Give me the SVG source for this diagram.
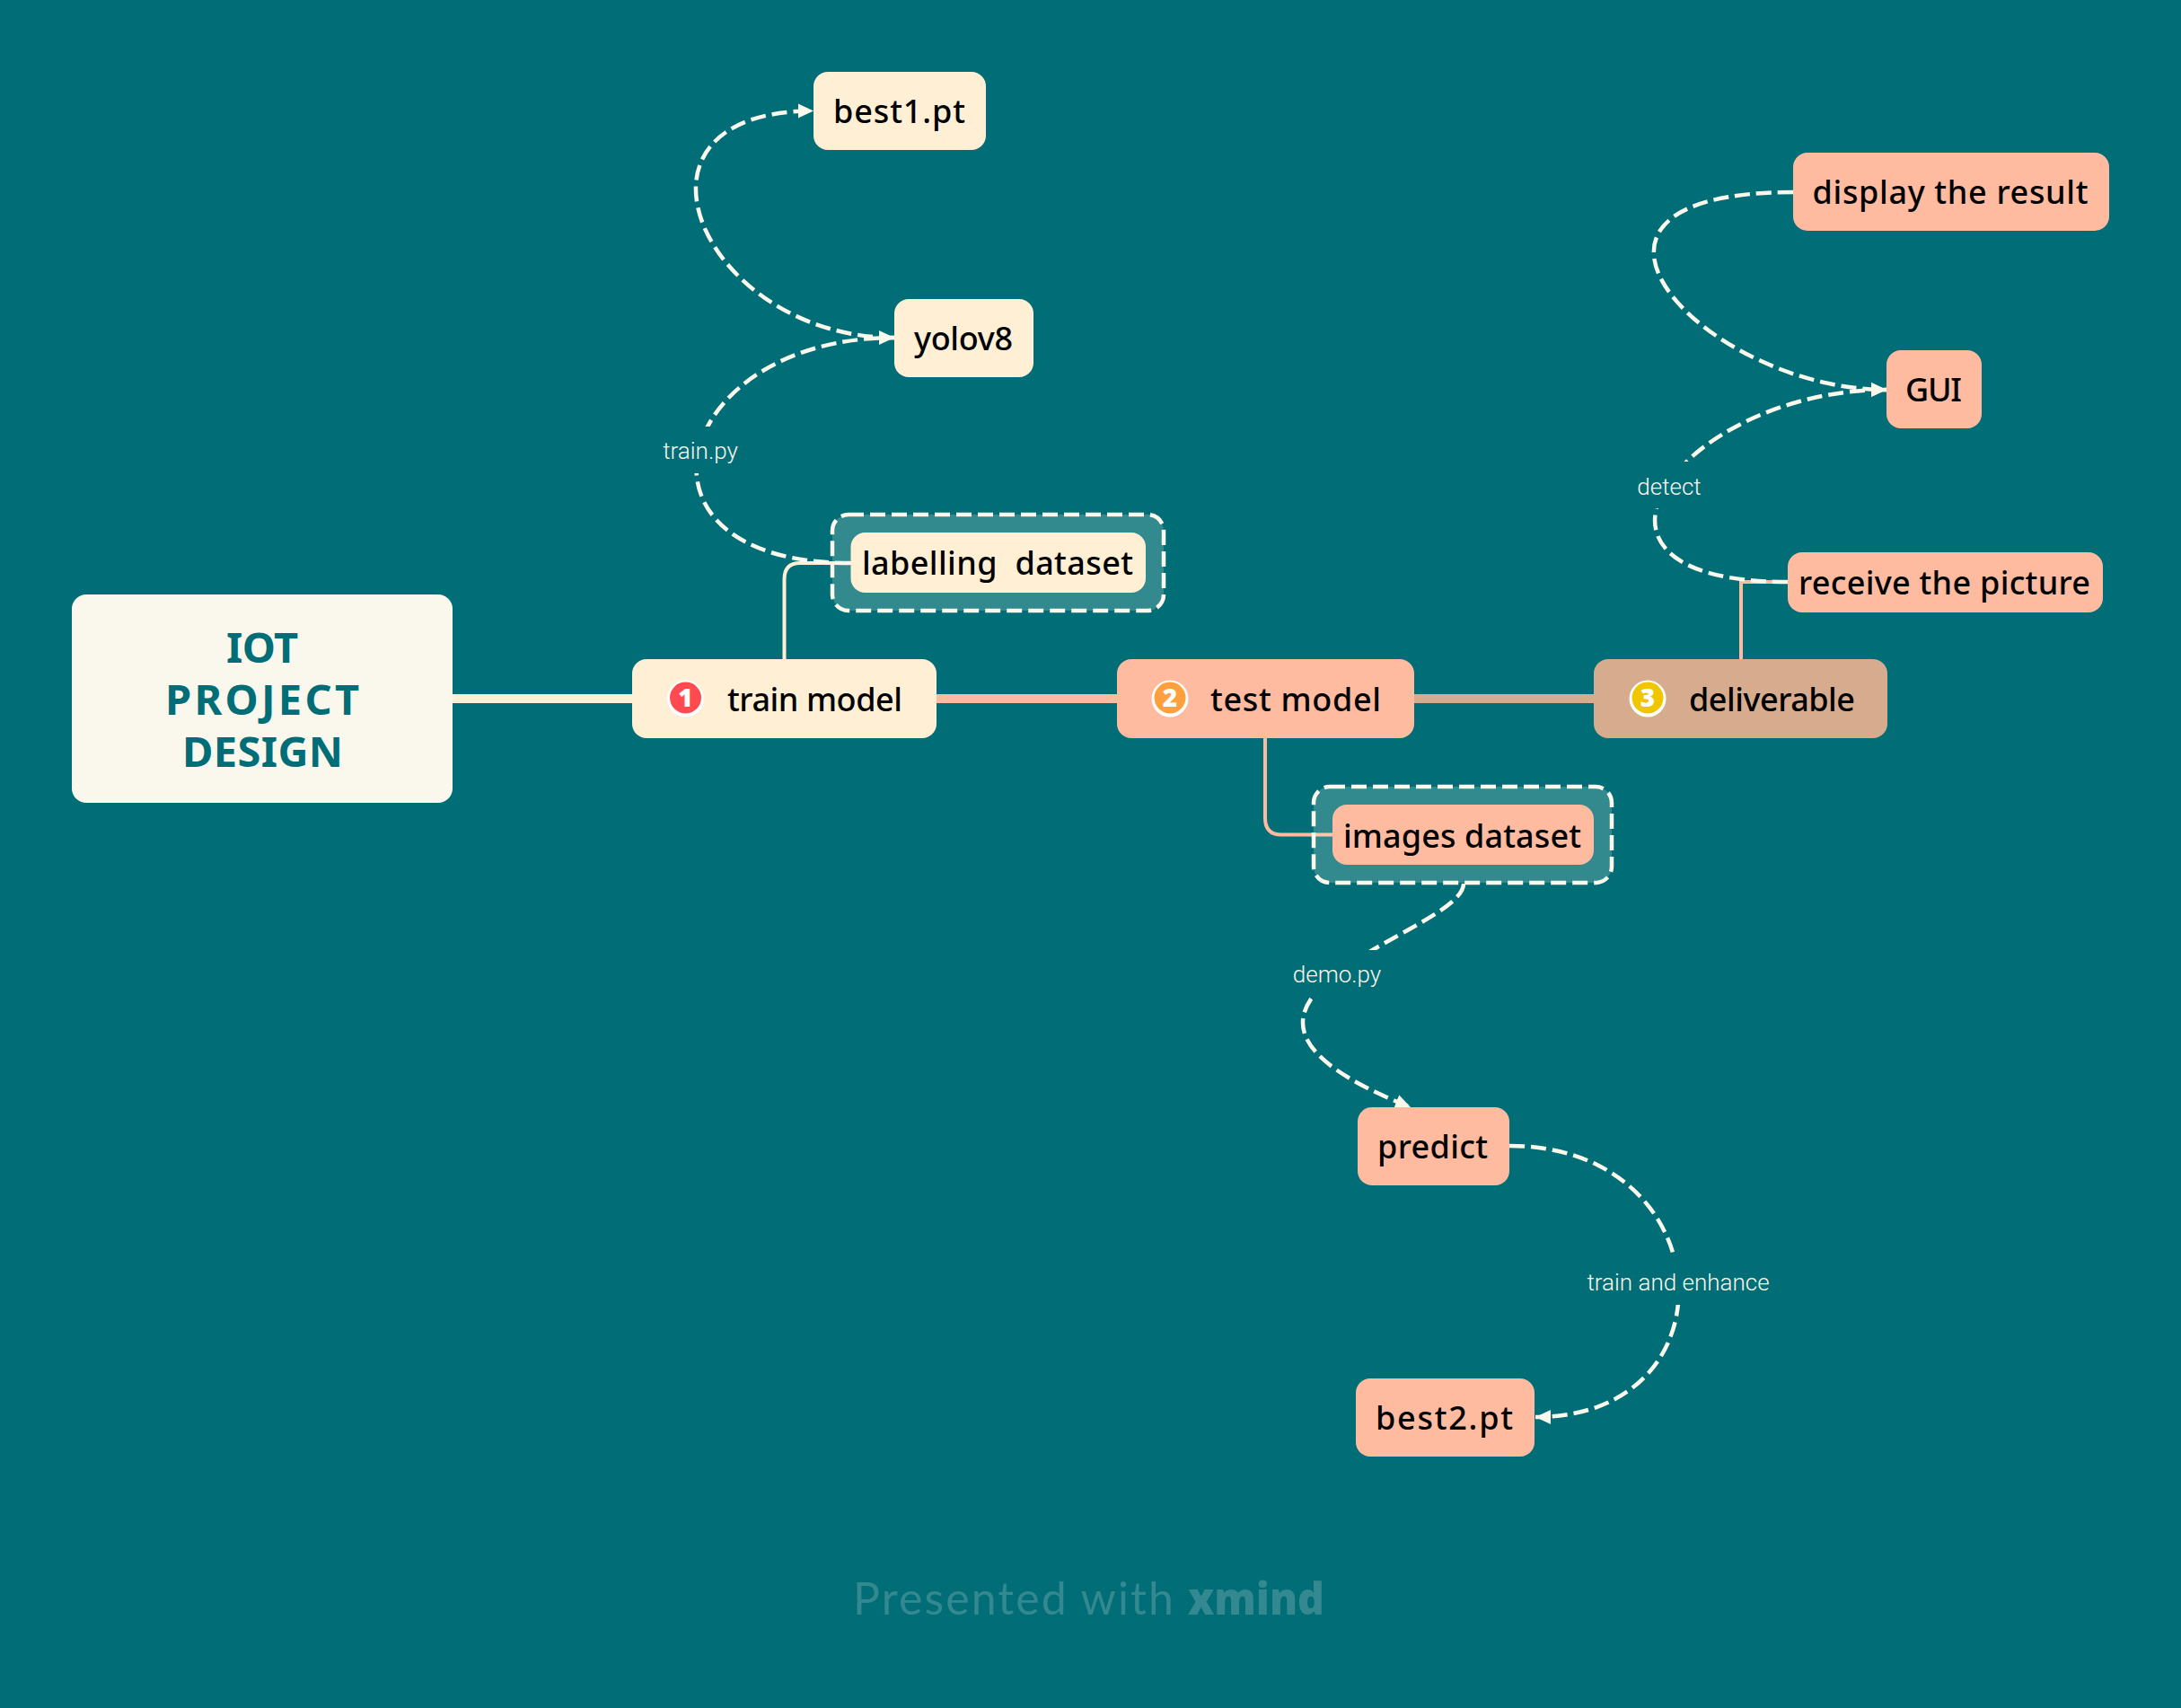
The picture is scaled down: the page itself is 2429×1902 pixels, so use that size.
<svg xmlns="http://www.w3.org/2000/svg" width="2429" height="1902" viewBox="0 0 2429 1902">
<style>
.n{font-family:"Noto Sans","DejaVu Sans",sans-serif;font-size:36px;font-weight:500;fill:#000}
.r{font-family:"Noto Sans","DejaVu Sans",sans-serif;font-size:47px;font-weight:700;fill:#006d77}
.cream{fill:#ffefd5}.peach{fill:#ffbb9f}.tan{fill:#d6ab8e}
.rel{fill:none;stroke:#fbf8ec;stroke-width:4.500;stroke-dasharray:17 7}
.relt{font-family:Roboto,"Liberation Sans",sans-serif;font-size:26px;font-weight:300;fill:#fbf8ec;text-anchor:middle}
.mask{fill:#006d77}
.bd{fill:#fbf8ec;fill-opacity:.2;stroke:#fbf8ec;stroke-width:4.500;stroke-dasharray:17 7}
.dg{font-family:"Open Sans","Liberation Sans",sans-serif;font-size:28px;font-weight:800;fill:#fff;text-anchor:middle}
.ft{font-size:50px;fill:#34888f}
</style>
<defs>
<marker id="a" markerUnits="userSpaceOnUse" markerWidth="19" markerHeight="18" refX="17" refY="9" orient="auto"><path d="M0 1L17 9L0 17Z" fill="#fbf8ec"/></marker>
</defs>
<rect width="2429" height="1902" fill="#006d77"/>
<g id="connectors">
<path d="M503 778H704" stroke="#ffefd5" stroke-width="10" fill="none"/>
<path d="M1043 778H1244" stroke="#ffbb9f" stroke-width="10" fill="none"/>
<path d="M1575 778H1775" stroke="#d6ab8e" stroke-width="10" fill="none"/>
<path d="M873.500 734V645Q873.500 627 891 627H950" stroke="#ffefd5" stroke-width="4" fill="none"/>
<path d="M1409 822V911Q1409 929.500 1427 929.500H1486" stroke="#ffbb9f" stroke-width="4" fill="none"/>
<path d="M1939 734V648H1991" stroke="#ffbb9f" stroke-width="4" fill="none"/>
<rect class="bd" x="927" y="573" width="369" height="107" rx="18"/>
<rect class="bd" x="1463" y="876" width="332" height="107" rx="18"/>
<path class="rel" d="M996 376C782 376 672 123.500 906 123.500" marker-end="url(#a)"/>
<path class="rel" d="M947 627C680 627 747 376 996 376" marker-end="url(#a)"/>
<path class="rel" d="M1997 214C1691 214 1898 434 2101 434" marker-end="url(#a)"/>
<path class="rel" d="M1991 648C1712 648 1873 434 2101 434" marker-end="url(#a)"/>
<path class="rel" d="M1630 984C1630 1040 1270 1114 1571 1233" marker-end="url(#a)"/>
<path class="rel" d="M1681 1276C1918 1276 1936 1578 1710 1578" marker-end="url(#a)"/>
<rect class="mask" x="734" y="475" width="92" height="52"/>
<rect class="mask" x="1819" y="514" width="80" height="52"/>
<rect class="mask" x="1436" y="1058" width="106" height="52"/>
<rect class="mask" x="1763" y="1398" width="212" height="55"/>
<text class="relt" x="780" y="511">train.py</text>
<text class="relt" x="1859" y="551">detect</text>
<text class="relt" x="1489" y="1094">demo.py</text>
<text class="relt" x="1869" y="1437">train and enhance</text>
</g>
<g id="root"><rect x="80" y="662" width="424" height="232" rx="16" fill="#faf8ec"/>
<text class="r" x="252" y="738" textLength="80">IOT</text>
<text class="r" x="184" y="796" textLength="216">PROJECT</text>
<text class="r" x="203" y="854" textLength="179">DESIGN</text></g>
<g id="train-model"><rect class="cream" x="704" y="734" width="339" height="88" rx="16"/>
<circle cx="763.500" cy="778" r="20.500" fill="#fff"/><circle cx="763.500" cy="777" r="17.500" fill="#ff4b4f"/><text class="dg" x="763.500" y="787">1</text>
<text class="n" x="810" y="792" textLength="195">train model</text></g>
<g id="test-model"><rect class="peach" x="1244" y="734" width="331" height="88" rx="16"/>
<circle cx="1303" cy="778" r="20.500" fill="#fff"/><circle cx="1303" cy="777" r="17.500" fill="#ffa03e"/><text class="dg" x="1303" y="787">2</text>
<text class="n" x="1348" y="792" textLength="190">test model</text></g>
<g id="deliverable"><rect class="tan" x="1775" y="734" width="327" height="88" rx="16"/>
<circle cx="1835" cy="778" r="20.500" fill="#fff"/><circle cx="1835" cy="777" r="17.500" fill="#efc600"/><text class="dg" x="1835" y="787">3</text>
<text class="n" x="1881" y="792" textLength="185">deliverable</text></g>
<g id="labelling-dataset"><rect class="cream" x="947.500" y="593" width="328.500" height="67" rx="16"/>
<text class="n" x="960" y="640" textLength="302" xml:space="preserve">labelling  dataset</text></g>
<g id="yolov8"><rect class="cream" x="996" y="333" width="155" height="87" rx="16"/>
<text class="n" x="1018" y="390" textLength="110">yolov8</text></g>
<g id="best1"><rect class="cream" x="906" y="80" width="192" height="87" rx="16"/>
<text class="n" x="928" y="137" textLength="147">best1.pt</text></g>
<g id="images-dataset"><rect class="peach" x="1484" y="896" width="291" height="67" rx="16"/>
<text class="n" x="1496" y="944" textLength="265">images dataset</text></g>
<g id="predict"><rect class="peach" x="1512" y="1233" width="169" height="87" rx="16"/>
<text class="n" x="1534" y="1290" textLength="123">predict</text></g>
<g id="best2"><rect class="peach" x="1510" y="1535" width="199" height="87" rx="16"/>
<text class="n" x="1532" y="1592" textLength="153">best2.pt</text></g>
<g id="receive"><rect class="peach" x="1991" y="615" width="351" height="67" rx="16"/>
<text class="n" x="2003" y="662" textLength="325">receive the picture</text></g>
<g id="gui"><rect class="peach" x="2101" y="390" width="106" height="87" rx="16"/>
<text class="n" x="2122" y="447" textLength="63">GUI</text></g>
<g id="display"><rect class="peach" x="1997" y="170" width="352" height="87" rx="16"/>
<text class="n" x="2018.500" y="227" textLength="307">display the result</text></g>
<g id="footer"><text class="ft" x="950" y="1798" font-family="Lato,'Liberation Sans',sans-serif" font-weight="400" textLength="357">Presented with</text>
<text class="ft" x="1323" y="1798" font-family="'Open Sans','Liberation Sans',sans-serif" font-weight="800" textLength="152" lengthAdjust="spacingAndGlyphs">xmind</text></g>
</svg>
